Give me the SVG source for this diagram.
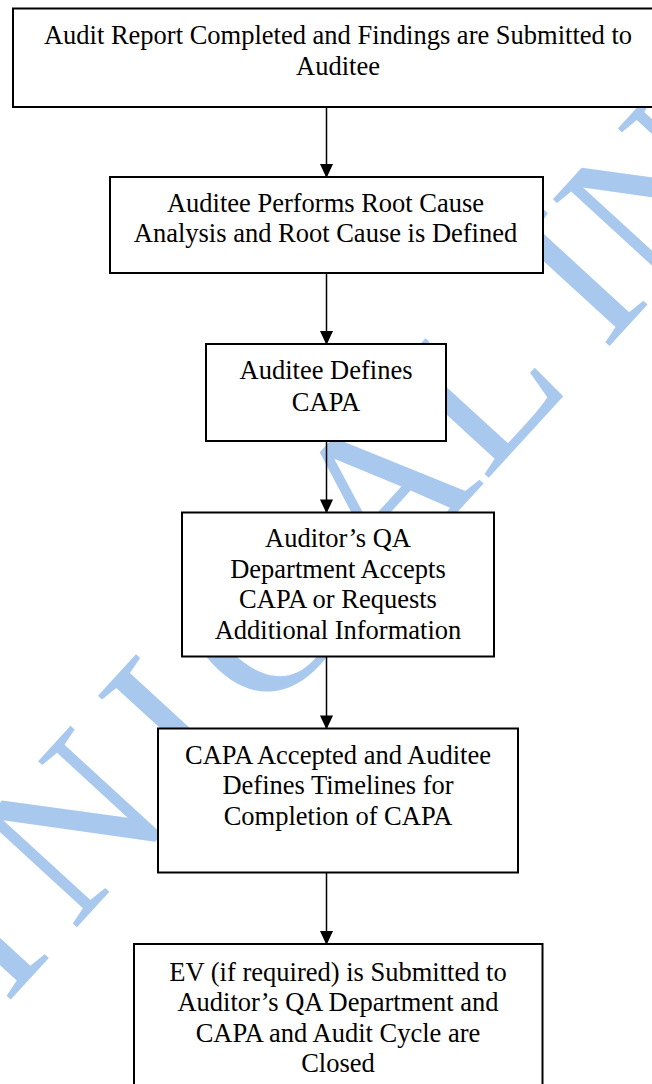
<svg xmlns="http://www.w3.org/2000/svg" width="652" height="1084" viewBox="0 0 652 1084">
<defs>
<style>
.wm{font-family:"Liberation Serif","Times New Roman",serif;font-size:215px;fill:#a9c8ee;}
.box{fill:#ffffff;stroke:#000000;stroke-width:2;}
.t{font-family:"Liberation Serif","Times New Roman",serif;font-size:26.5px;fill:#000000;text-anchor:middle;}
.c{stroke:#000000;stroke-width:1.5;fill:none;}
</style>
<marker id="ah" markerWidth="14" markerHeight="15" refX="14" refY="7" orient="auto" markerUnits="userSpaceOnUse" viewBox="0 0 15 14">
<path d="M0,0 L15,7 L0,14 Z" fill="#000000"/>
</marker>
</defs>
<rect width="652" height="1084" fill="#ffffff"/>
<g id="watermark">
<text class="wm" transform="translate(-218,1249) rotate(-47.5)" dx="0 28 28 28 28 28 28">CLINICAL IN</text>
</g>
<g id="n1">
<rect class="box" x="13" y="8.5" width="660" height="98.5"/>
<text class="t" x="338" y="44">Audit Report Completed and Findings are Submitted to</text>
<text class="t" x="338" y="74.5">Auditee</text>
</g>
<g id="n2">
<rect class="box" x="110" y="177" width="433" height="96"/>
<text class="t" x="325.5" y="211.5">Auditee Performs Root Cause</text>
<text class="t" x="325.5" y="242">Analysis and Root Cause is Defined</text>
</g>
<g id="n3">
<rect class="box" x="206" y="344" width="240" height="97"/>
<text class="t" x="326" y="379">Auditee Defines</text>
<text class="t" x="326" y="410.5">CAPA</text>
</g>
<g id="n4">
<rect class="box" x="182" y="512.5" width="312" height="144"/>
<text class="t" x="338" y="547">Auditor’s QA</text>
<text class="t" x="338" y="577.5">Department Accepts</text>
<text class="t" x="338" y="608">CAPA or Requests</text>
<text class="t" x="338" y="638.5">Additional Information</text>
</g>
<g id="n5">
<rect class="box" x="158" y="728.5" width="360" height="144"/>
<text class="t" x="338" y="764">CAPA Accepted and Auditee</text>
<text class="t" x="338" y="794">Defines Timelines for</text>
<text class="t" x="338" y="824.5">Completion of CAPA</text>
</g>
<g id="n6">
<rect class="box" x="134" y="944" width="408.5" height="160"/>
<text class="t" x="338" y="980.5">EV (if required) is Submitted to</text>
<text class="t" x="338" y="1011">Auditor’s QA Department and</text>
<text class="t" x="338" y="1041.5">CAPA and Audit Cycle are</text>
<text class="t" x="338" y="1072">Closed</text>
</g>
<g id="connectors">
<line class="c" x1="326.5" y1="107" x2="326.5" y2="177" marker-end="url(#ah)"/>
<line class="c" x1="326.5" y1="273" x2="326.5" y2="344" marker-end="url(#ah)"/>
<line class="c" x1="326.5" y1="441" x2="326.5" y2="512.5" marker-end="url(#ah)"/>
<line class="c" x1="326.5" y1="656.5" x2="326.5" y2="728.5" marker-end="url(#ah)"/>
<line class="c" x1="326.5" y1="872.5" x2="326.5" y2="944" marker-end="url(#ah)"/>
</g>
</svg>
